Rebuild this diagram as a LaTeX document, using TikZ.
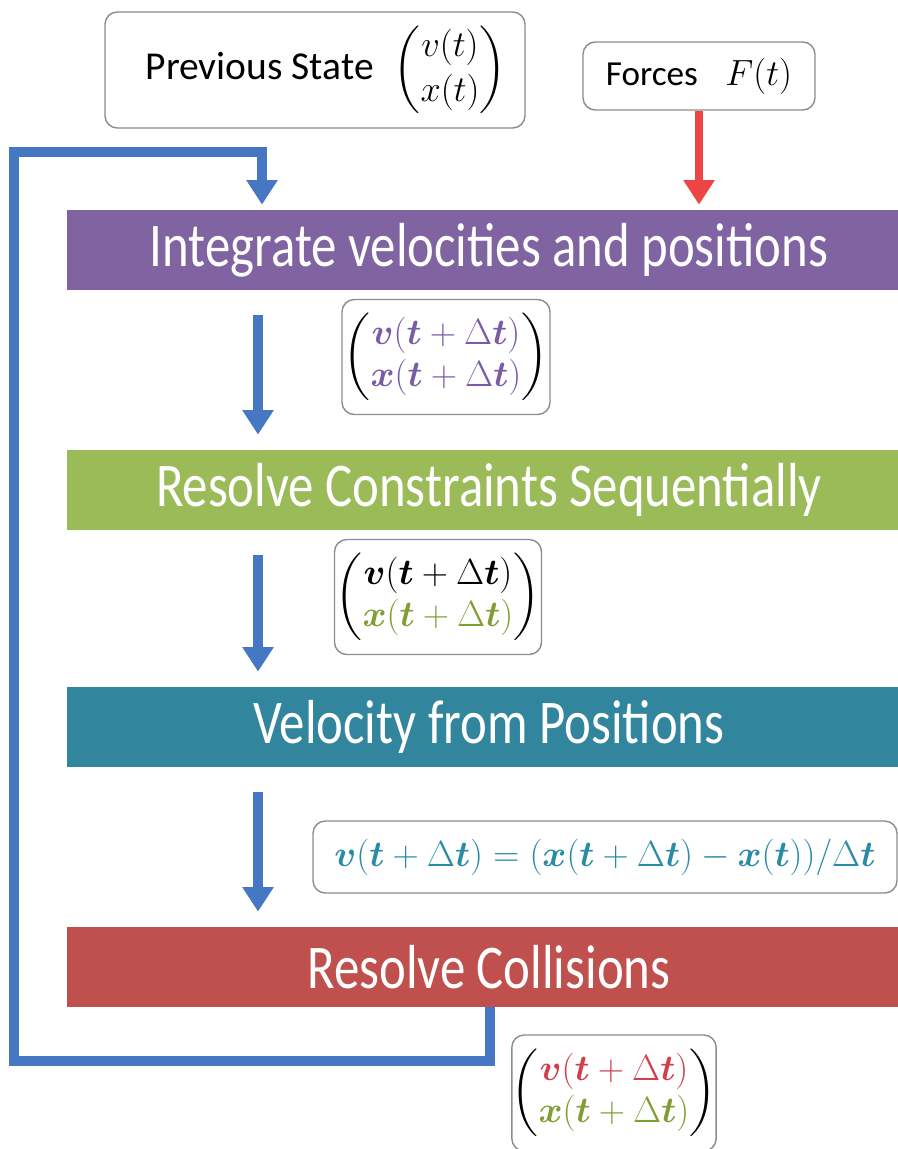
\documentclass[tikz,border=0pt]{standalone}
\usepackage{amsmath}
\usepackage{graphicx}
\usepackage{fontspec}
\setmainfont{Carlito}
\usetikzlibrary{arrows.meta,positioning,calc}
\definecolor{stepPurple}{HTML}{8064A2}
\definecolor{stepGreen}{HTML}{9BBB59}
\definecolor{stepTeal}{HTML}{31859C}
\definecolor{stepRed}{HTML}{C0504D}
\definecolor{loopBlue}{HTML}{4677C3}
\definecolor{forceRed}{HTML}{EE4444}
\definecolor{mathPurple}{HTML}{7A5CA6}
\definecolor{mathGreen}{HTML}{7F9F35}
\definecolor{mathTeal}{HTML}{2A8BA6}
\definecolor{mathRed}{HTML}{D0404A}
\newcommand{\pxu}{0.02cm}
\newcommand{\vnext}{\boldsymbol{v}(\boldsymbol{t}+\Delta \boldsymbol{t})}
\newcommand{\xnext}{\boldsymbol{x}(\boldsymbol{t}+\Delta \boldsymbol{t})}
\newcommand{\stagetext}[1]{\scalebox{0.98}[1.2]{#1}}

\begin{document}
\begin{tikzpicture}[
    x=\pxu, y=-\pxu, >=Stealth,
    box/.style={draw=black!45, fill=white, rounded corners=7pt, line width=0.8pt,
      inner sep=0pt, font=\fontsize{20}{24}\selectfont},
    stage/.style={minimum width=844*\pxu, minimum height=80*\pxu, inner sep=0pt,
      text=white, font=\fontsize{29.5}{34}\selectfont},
    flow/.style={draw=loopBlue, line width=5.6pt, -{Triangle[length=14pt,width=17pt]}},
    force/.style={draw=forceRed, line width=5pt, -{Triangle[length=14pt,width=17pt]}}
  ]
  \useasboundingbox (0,0) rectangle (898,1149);
  % Inputs
  \node[box, minimum width=420*\pxu, minimum height=116*\pxu, font=\fontsize{22.5}{26}\selectfont] (prev) at (315,70)
    {\hspace*{0.44cm}Previous State\; $\begin{pmatrix} v(t)\\ x(t)\end{pmatrix}$};
  \node[box, minimum width=232*\pxu, minimum height=68*\pxu] (forces) at (699,76)
    {Forces\;\; $F(t)$};
  % Stages
  \node[stage, fill=stepPurple] (intg) at (489,250) {\stagetext{Integrate velocities and positions}};
  \node[stage, fill=stepGreen] (cons) at (489,490) {\stagetext{Resolve Constraints Sequentially}};
  \node[stage, fill=stepTeal] (vel) at (489,727) {\stagetext{Velocity from Positions}};
  \node[stage, fill=stepRed] (coll) at (489,967) {\stagetext{Resolve Collisions}};
  % States between stages
  \node[box, minimum width=208*\pxu, minimum height=115*\pxu] (s1) at (446,357)
    {$\begin{pmatrix} \textcolor{mathPurple}{\vnext}\\ \textcolor{mathPurple}{\xnext} \end{pmatrix}$};
  \node[box, minimum width=207*\pxu, minimum height=115*\pxu] (s2) at (438,597)
    {$\begin{pmatrix} \vnext\\ \textcolor{mathGreen}{\xnext} \end{pmatrix}$};
  \node[box, minimum width=584*\pxu, minimum height=72*\pxu] (upd) at (605,857)
    {\color{mathTeal}$\vnext = (\boldsymbol{x}(\boldsymbol{t}+\Delta \boldsymbol{t}) - \boldsymbol{x}(\boldsymbol{t}))/\Delta \boldsymbol{t}$};
  \node[box, minimum width=204*\pxu, minimum height=116*\pxu] (s3) at (614,1093)
    {$\begin{pmatrix} \textcolor{mathRed}{\vnext}\\ \textcolor{mathGreen}{\xnext} \end{pmatrix}$};
  % Arrows
  \coordinate (lane) at (258,0);
  \coordinate (inlet) at (262,0);
  \coordinate (ret) at (490,0);
  \coordinate (loopL) at (14,152);
  \draw[force, shorten >=0.1cm] (forces) -- (forces |- intg.north);
  \draw[flow, shorten <=0.5cm, shorten >=0.3cm] (intg.south -| lane) -- (cons.north -| lane);
  \draw[flow, shorten <=0.5cm, shorten >=0.3cm] (cons.south -| lane) -- (vel.north -| lane);
  \draw[flow, shorten <=0.5cm, shorten >=0.3cm] (vel.south -| lane) -- (coll.north -| lane);
  \draw[flow, shorten >=0.1cm] (coll.south -| ret) -- ++(0,54) -| (loopL) -| (intg.north -| inlet);
\end{tikzpicture}
\end{document}
